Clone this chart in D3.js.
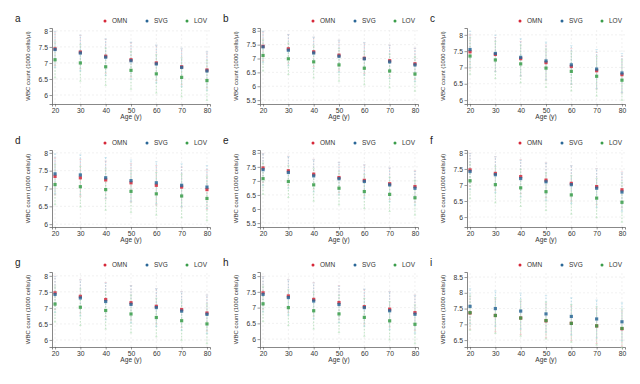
<!DOCTYPE html>
<html>
<head>
<meta charset="utf-8">
<script src="https://cdn.jsdelivr.net/npm/d3@7"></script>
<style>
  body { margin: 0; background: #fff; }
  svg { font-family: "Liberation Sans", Arial, sans-serif; }
</style>
</head>
<body>
<svg id="chart" width="640" height="384"></svg>
<script>
// データ
const ages = [20, 30, 40, 50, 60, 70, 80];
const seriesNames = ["OMN", "SVG", "LOV"];
const panelLetters = ["a", "b", "c", "d", "e", "f", "g", "h", "i"];

// 各パネルの平均値 (1000 cells/μl)
const omnA = [7.44, 7.34, 7.21, 7.10, 7.00, 6.88, 6.78];
const svgA = [7.42, 7.31, 7.18, 7.07, 6.97, 6.86, 6.75];
const lovA = [7.10, 7.00, 6.88, 6.77, 6.66, 6.55, 6.45];

const omnB = [7.44, 7.35, 7.24, 7.12, 7.01, 6.92, 6.81];
const svgB = [7.42, 7.30, 7.20, 7.08, 6.99, 6.88, 6.77];
const lovB = [7.11, 6.99, 6.88, 6.77, 6.65, 6.55, 6.44];

const omnC = [7.48, 7.40, 7.27, 7.15, 7.03, 6.90, 6.78];
const svgC = [7.55, 7.43, 7.31, 7.20, 7.08, 6.95, 6.83];
const lovC = [7.35, 7.23, 7.11, 6.98, 6.88, 6.73, 6.61];

const omnD = [7.34, 7.30, 7.24, 7.16, 7.09, 7.04, 6.97];
const svgD = [7.41, 7.38, 7.30, 7.22, 7.16, 7.09, 7.04];
const lovD = [7.11, 7.05, 6.97, 6.92, 6.85, 6.79, 6.72];

const omnE = [7.46, 7.36, 7.24, 7.12, 7.02, 6.90, 6.80];
const svgE = [7.40, 7.30, 7.18, 7.08, 6.98, 6.86, 6.74];
const lovE = [7.08, 6.98, 6.86, 6.74, 6.62, 6.52, 6.40];

const omnF = [7.47, 7.36, 7.26, 7.15, 7.05, 6.95, 6.85];
const svgF = [7.42, 7.32, 7.20, 7.10, 7.01, 6.90, 6.78];
const lovF = [7.13, 7.01, 6.91, 6.79, 6.69, 6.59, 6.46];

const omnG = [7.47, 7.36, 7.26, 7.16, 7.05, 6.95, 6.84];
const svgG = [7.42, 7.31, 7.20, 7.11, 7.01, 6.90, 6.80];
const lovG = [7.12, 7.02, 6.92, 6.81, 6.70, 6.60, 6.50];

const omnH = [7.47, 7.37, 7.26, 7.16, 7.03, 6.95, 6.84];
const svgH = [7.42, 7.32, 7.21, 7.10, 7.00, 6.90, 6.79];
const lovH = [7.12, 7.00, 6.90, 6.80, 6.69, 6.58, 6.47];

const omnI = [7.36, 7.28, 7.20, 7.11, 7.03, 6.95, 6.86];
const svgI = [7.57, 7.50, 7.42, 7.33, 7.25, 7.17, 7.08];
const lovI = [7.37, 7.28, 7.20, 7.12, 7.03, 6.95, 6.87];

// エラーバーの半幅
const errOMN = [0.52, 0.52, 0.53, 0.54, 0.55, 0.56, 0.56];
const errSVG = [0.56, 0.56, 0.57, 0.58, 0.59, 0.60, 0.60];
const errLOV = [0.56, 0.57, 0.58, 0.59, 0.60, 0.61, 0.62];

// Y軸の目盛り
const ticksStd = [6, 6.5, 7, 7.5, 8];
const ticksWide = [5.5, 6, 6.5, 7, 7.5, 8];
const ticksHigh = [6.5, 7, 7.5, 8, 8.5];

const panelMeans = [
  [omnA, svgA, lovA], [omnB, svgB, lovB], [omnC, svgC, lovC],
  [omnD, svgD, lovD], [omnE, svgE, lovE], [omnF, svgF, lovF],
  [omnG, svgG, lovG], [omnH, svgH, lovH], [omnI, svgI, lovI]
];
const panelTicks = [ticksStd, ticksWide, ticksStd, ticksStd, ticksWide, ticksStd, ticksStd, ticksStd, ticksHigh];
const panelDomains = [
  [5.72, 8.09], [5.36, 8.10], [5.88, 8.21],
  [5.92, 8.08], [5.36, 8.10], [5.69, 8.09],
  [5.78, 8.12], [5.75, 8.13], [6.28, 8.66]
];
const errs = [errOMN, errSVG, errLOV];

// レイアウト
const colLeft = [52, 260, 467];
const colRight = [210, 418, 625];
const rowBottom = [104, 227, 347];
const rowTop = [28, 150, 272];

const colors = ["#d62839", "#2a6797", "#3a9d4a"];
const barColors = ["#f3b5bc", "#a6d4e6", "#b3e0b9"];

const svg = d3.select("#chart");

panelMeans.forEach((means, p) => {
  const col = p % 3, row = Math.floor(p / 3);
  const x = d3.scaleLinear().domain([18.8, 81.2]).range([colLeft[col], colRight[col]]);
  const y = d3.scaleLinear().domain(panelDomains[p]).range([rowBottom[row], rowTop[row]]);
  const g = svg.append("g");

  // グリッド
  g.selectAll("line.hgrid").data(panelTicks[p]).enter().append("line")
    .attr("x1", x.range()[0]).attr("x2", x.range()[1])
    .attr("y1", d => y(d)).attr("y2", d => y(d))
    .attr("stroke", "#e8e8e8").attr("stroke-width", 0.6).attr("stroke-dasharray", "2,2");
  g.selectAll("line.vgrid").data(ages).enter().append("line")
    .attr("x1", d => x(d)).attr("x2", d => x(d))
    .attr("y1", y.range()[0]).attr("y2", y.range()[1])
    .attr("stroke", "#e8e8e8").attr("stroke-width", 0.6).attr("stroke-dasharray", "2,2");

  // 軸
  const yAxis = g.append("g").attr("transform", `translate(${x.range()[0]},0)`)
    .call(d3.axisLeft(y).tickValues(panelTicks[p]).tickSize(2.5).tickPadding(1.5).tickFormat(d3.format("")));
  const xAxis = g.append("g").attr("transform", `translate(0,${y.range()[0]})`)
    .call(d3.axisBottom(x).tickValues(ages).tickSize(2.5).tickPadding(2));
  [yAxis, xAxis].forEach(a => {
    a.select(".domain").attr("stroke", "#555").attr("stroke-width", 0.7);
    a.selectAll(".tick line").attr("stroke", "#555").attr("stroke-width", 0.6);
    a.selectAll("text").attr("font-size", 6.8).attr("fill", "#333");
  });

  // 軸ラベル
  g.append("text")
    .attr("transform", `translate(${x.range()[0] - 22},${(y.range()[0] + y.range()[1]) / 2}) rotate(-90)`)
    .attr("text-anchor", "middle").attr("font-size", 6).attr("fill", "#333")
    .text("WBC count (1000 cells/μl)");
  g.append("text")
    .attr("x", (x.range()[0] + x.range()[1]) / 2).attr("y", y.range()[0] + 15)
    .attr("text-anchor", "middle").attr("font-size", 6.6).attr("fill", "#333")
    .text("Age (y)");

  // パネル記号
  g.append("text")
    .attr("x", x.range()[0] - 37).attr("y", rowTop[row] - 6)
    .attr("font-size", 10).attr("fill", "#222")
    .text(panelLetters[p]);

  // 凡例
  const legendOffsets = [-105, -63, -23];
  seriesNames.forEach((name, s) => {
    const lx = colRight[col] + legendOffsets[s];
    const ly = rowTop[row] - 7;
    g.append("circle").attr("cx", lx).attr("cy", ly).attr("r", 1.5).attr("fill", colors[s]);
    g.append("text").attr("x", lx + 7).attr("y", ly + 2.4)
      .attr("font-size", 6.5).attr("fill", "#333").text(name);
  });

  // エラーバー
  means.forEach((vals, s) => {
    const data = ages.map((a, i) => ({ age: a, m: vals[i], e: errs[s][i] }));
    g.selectAll(null).data(data).enter().append("line")
      .attr("x1", d => x(d.age)).attr("x2", d => x(d.age))
      .attr("y1", d => y(d.m - d.e)).attr("y2", d => y(d.m + d.e))
      .attr("stroke", barColors[s]).attr("stroke-width", 0.8).attr("stroke-dasharray", "1.5,1.5");
    g.selectAll(null).data(data).enter().append("path")
      .attr("d", d => `M${x(d.age) - 1.2},${y(d.m - d.e)}h2.4M${x(d.age) - 1.2},${y(d.m + d.e)}h2.4`)
      .attr("stroke", barColors[s]).attr("stroke-width", 0.5);
  });

  // 平均値
  means.forEach((vals, s) => {
    g.selectAll(null).data(ages.map((a, i) => ({ age: a, m: vals[i] }))).enter().append("rect")
      .attr("x", d => x(d.age) - 1.6).attr("y", d => y(d.m) - 1.6)
      .attr("width", 3.2).attr("height", 3.2)
      .attr("fill", colors[s]).attr("fill-opacity", 0.85);
  });
});
</script>
</body>
</html>
